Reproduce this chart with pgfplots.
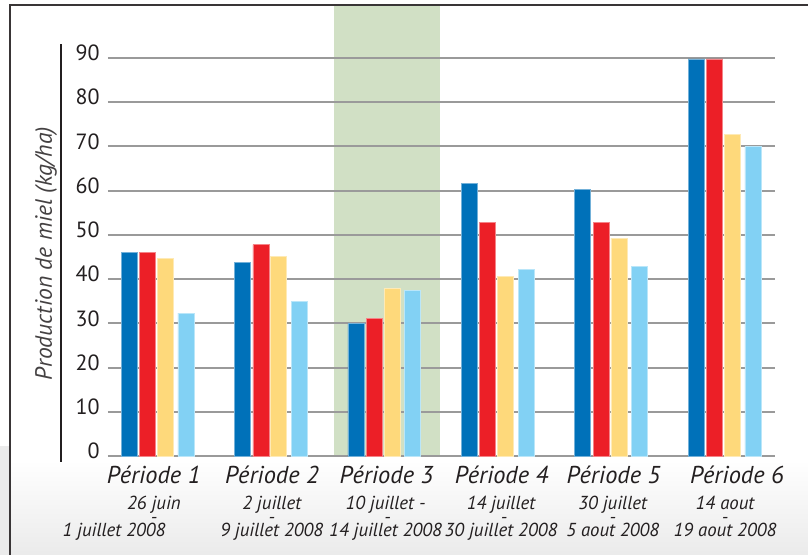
\documentclass[border=0pt]{standalone}
\usepackage{pgfplots}
\pgfplotsset{compat=1.18}
\usepackage{fontspec}
\setmainfont{PT Sans}
\lineskiplimit=-100pt
\normallineskiplimit=-100pt
\definecolor{cblue}{HTML}{0071B9}
\definecolor{cred}{HTML}{EC1F27}
\definecolor{cyel}{HTML}{FED97B}
\definecolor{clb}{HTML}{82D1F4}
\definecolor{band}{HTML}{D1E0C5}
\definecolor{gridc}{HTML}{9A9A9A}
\definecolor{txt}{HTML}{231F20}
\begin{document}
\begin{tikzpicture}
\shade[top color=white, bottom color=black!8] (-54pt,-49.5pt) rectangle (350pt,-2pt);
\fill[black!8] (-54pt,-49.5pt) rectangle (-49pt,5pt);
\draw[txt!90, line width=0.8pt] (-49pt,-49.5pt) -- (-49pt,225.5pt) -- (350pt,225.5pt);
\begin{axis}[name=ax, set layers, scale only axis, width=333.5pt, height=225.5pt,
  xmin=-0.4365, xmax=5.445, ymin=0, ymax=102, clip=false,
  axis line style={draw=none}, tick style={draw=none},
  xtick=\empty, ytick={0,10,...,90}, ymajorgrids,
  grid style={gridc, line width=1pt},
  yticklabel style={anchor=east, inner sep=0pt, xshift=-4pt, yshift=2.5pt, font=\fontsize{11}{12}\selectfont, text=txt},
  /pgf/number format/assume math mode=true,
  ybar, bar width=8pt]
\begin{pgfonlayer}{axis background}
\fill[band] (axis cs:1.556,0) rectangle (axis cs:2.491,102);
\end{pgfonlayer}
\addplot[fill=cblue, draw=cblue!55!white, line width=0.4pt, bar shift=-14.2pt] coordinates {(0,46) (1,43.7) (2,29.9) (3,61.7) (4,60.3) (5,89.8)};
\addplot[fill=cred, draw=cred!55!white, line width=0.4pt, bar shift=-5pt] coordinates {(0,46) (1,47.8) (2,31.2) (3,52.9) (4,52.9) (5,89.8)};
\addplot[fill=cyel, draw=cyel!55!white, line width=0.4pt, bar shift=3.9pt] coordinates {(0,44.6) (1,45.2) (2,37.8) (3,40.6) (4,49.3) (5,72.8)};
\addplot[fill=clb, draw=clb!55!white, line width=0.4pt, bar shift=14.2pt] coordinates {(0,32.3) (1,35) (2,37.4) (3,42.1) (4,42.9) (5,70.1)};
\draw[line width=1.1pt, txt] (axis cs:-0.851,-1.3) -- (axis cs:-0.851,93.2);
\node[rotate=90, anchor=center, font=\itshape\fontsize{11.8}{13}\selectfont, text=txt!85] at (axis cs:-0.983,45.8) {Production de miel (kg/ha)};
\tikzset{tt/.style={anchor=base, inner sep=0pt, font=\itshape\fontsize{12.2}{14}\selectfont, text=txt},
         ts/.style={anchor=north, inner sep=0pt, align=center, font=\itshape\fontsize{9.4}{6.8}\selectfont, text=txt}}
\node[tt] at (axis cs:-0.034,-6.33) {Période 1};
\node[tt] at (axis cs:1.010,-6.33) {Période 2};
\node[tt] at (axis cs:2.019,-6.33) {Période 3};
\node[tt] at (axis cs:3.034,-6.33) {Période 4};
\node[tt] at (axis cs:4.021,-6.33) {Période 5};
\node[tt] at (axis cs:5.110,-6.33) {Période 6};
\node[ts] at (axis cs:-0.031,-9.0) {26 juin\\-\\\hspace*{-20pt}1 juillet 2008\hspace*{20pt}};
\node[ts] at (axis cs:1.008,-9.0) {2 juillet\\-\\9 juillet 2008};
\node[ts] at (axis cs:2.011,-9.0) {10 juillet -\\\hspace*{2pt}-\\14 juillet 2008};
\node[ts] at (axis cs:3.029,-9.0) {14 juillet\\\hspace*{3pt}-\\30 juillet 2008};
\node[ts] at (axis cs:4.014,-9.0) {30 juillet\\-\\5 aout 2008};
\node[ts] at (axis cs:5.004,-9.0) {14 aout\\-\\19 aout 2008};
\end{axis}
\pgfresetboundingbox
\path (-54pt,-49.5pt) rectangle (350pt,228pt);
\end{tikzpicture}
\end{document}
